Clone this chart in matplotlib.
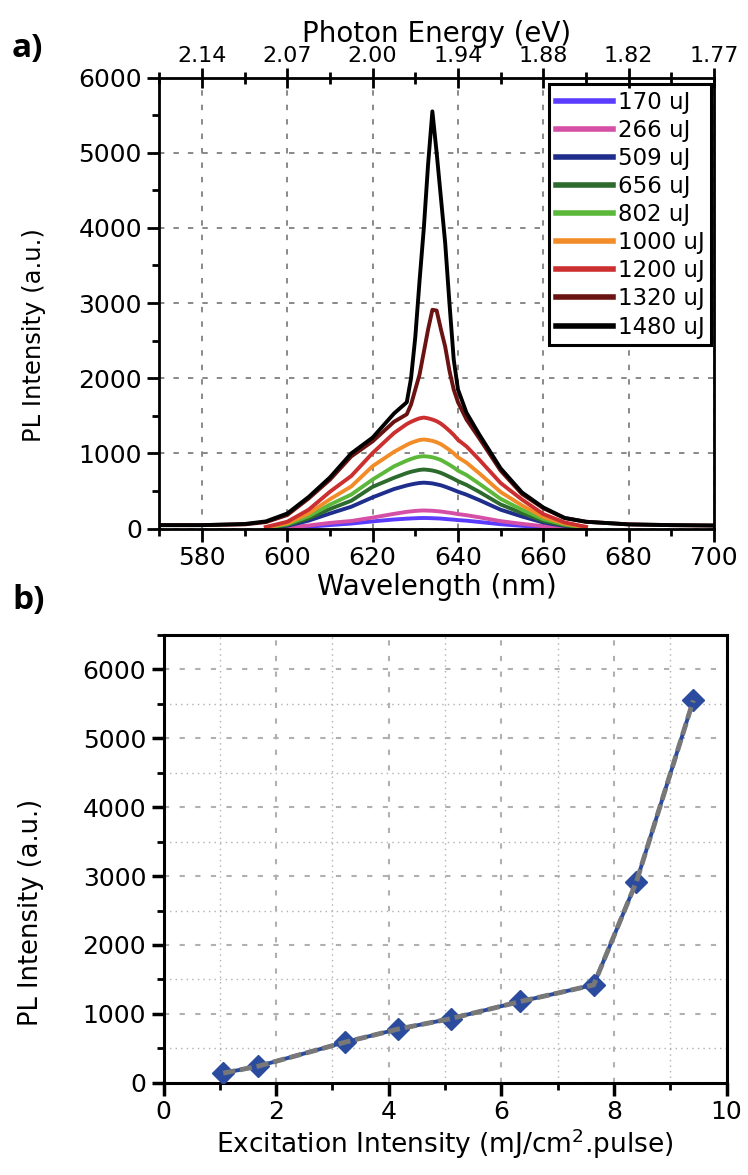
import numpy as np
import matplotlib
matplotlib.use('Agg')
import matplotlib.pyplot as plt
from matplotlib.ticker import MultipleLocator

plt.rcParams['font.family'] = 'DejaVu Sans'

# ---- panel a: PL spectra at different pump energies ----
wl = [570, 580, 590, 595, 600, 605, 610, 615, 620, 625,
      628, 629, 630, 631, 632, 633, 634, 635, 636, 637, 638, 639, 640,
      642, 645, 650, 655, 660, 665, 670, 680, 690, 700]

s170 = [None, None, None, 2, 8, 24, 46, 66, 95, 120,
        131, 134, 137, 139, 140, 139, 137, 135, 132, 127, 122, 118, 112,
        104, 87, 57, 36, 18, 8, 2, None, None, None]
s266 = [None, None, None, 3, 15, 40, 75, 100, 145, 195,
        222, 228, 234, 238, 240, 238, 236, 231, 226, 218, 210, 202, 192,
        177, 149, 98, 62, 31, 13, 4, None, None, None]
s509 = [None, None, None, 6, 37, 105, 200, 290, 415, 525,
        573, 586, 597, 606, 610, 606, 600, 588, 575, 556, 535, 513, 490,
        450, 378, 250, 160, 80, 34, 10, None, None, None]
s656 = [None, None, None, 8, 47, 135, 260, 370, 555, 675,
        738, 755, 768, 780, 785, 780, 772, 758, 740, 715, 688, 660, 630,
        580, 487, 320, 205, 100, 42, 12, None, None, None]
s802 = [None, None, None, 10, 58, 164, 318, 452, 652, 827,
        904, 925, 944, 957, 962, 957, 948, 932, 912, 880, 848, 812, 770,
        712, 596, 394, 250, 125, 53, 14, None, None, None]
s1000 = [None, None, None, 15, 70, 200, 390, 560, 830, 1020,
         1113, 1140, 1160, 1178, 1184, 1178, 1166, 1148, 1122, 1085, 1045, 1000, 947,
         876, 734, 485, 308, 154, 65, 18, None, None, None]
s1200 = [None, None, None, 20, 90, 250, 490, 700, 1005, 1270,
         1390, 1420, 1445, 1466, 1476, 1466, 1450, 1428, 1395, 1350, 1300, 1245, 1180,
         1092, 915, 605, 385, 192, 81, 22, None, None, None]
s1320 = [45, 45, 55, 85, 180, 400, 650, 960, 1160, 1420,
         1520, 1650, 1850, 2050, 2350, 2650, 2910, 2900, 2650, 2420, 2100, 1850, 1680,
         1450, 1200, 770, 460, 270, 140, 90, 55, 45, 40]
s1480 = [45, 45, 60, 95, 200, 420, 680, 1000, 1210, 1530,
         1680, 2000, 2550, 3300, 4000, 4850, 5550, 5000, 4400, 3800, 3000, 2250, 1850,
         1540, 1250, 800, 480, 280, 140, 90, 55, 45, 40]

labels = ['170 uJ', '266 uJ', '509 uJ', '656 uJ', '802 uJ',
          '1000 uJ', '1200 uJ', '1320 uJ', '1480 uJ']
series = [s170, s266, s509, s656, s802, s1000, s1200, s1320, s1480]
colors = ['#5a3cff', '#d64fa6', '#1f2e8c', '#2d6a2d', '#5cb83a',
          '#f28c28', '#cc2f2f', '#6b1212', '#000000']

top_ticks = [580, 600, 620, 640, 660, 680, 700]
energy_labels = ['2.14', '2.07', '2.00', '1.94', '1.88', '1.82', '1.77']

# ---- panel b: peak intensity vs excitation ----
exc = [1.06, 1.68, 3.23, 4.17, 5.10, 6.34, 7.64, 8.40, 9.41]
peak = [140, 240, 590, 780, 930, 1180, 1420, 2920, 5550]

fig = plt.figure(figsize=(7.48, 11.75), dpi=100)

ax1 = fig.add_axes([0.213, 0.5502, 0.7415, 0.3838])
for lab, vals, col in zip(labels, series, colors):
    ax1.plot(wl, np.array(vals, dtype=float), color=col, lw=2.8, label=lab)

ax1.set_xlim(570, 700)
ax1.set_ylim(0, 6000)
ax1.set_xticks(range(580, 701, 20))
ax1.xaxis.set_minor_locator(MultipleLocator(10))
ax1.set_yticks(range(0, 6001, 1000))
ax1.yaxis.set_minor_locator(MultipleLocator(500))
ax1.grid(True, which='major', color='#808080', ls=(0, (3, 5)), lw=1.3)
ax1.tick_params(which='major', direction='out', length=9, width=2, labelsize=18)
ax1.tick_params(which='minor', direction='out', length=5, width=2)
for sp in ax1.spines.values():
    sp.set_linewidth(2)
ax1.set_xlabel('Wavelength (nm)', fontsize=20, labelpad=2)
ax1.set_ylabel('PL Intensity (a.u.)', fontsize=17.5)
ax1.yaxis.set_label_coords(-0.205, 0.43)

leg = ax1.legend(loc='upper right', bbox_to_anchor=(0.995, 0.985), borderaxespad=0,
                 fontsize=16.5, handlelength=2.5, handletextpad=0.2,
                 labelspacing=0.22, borderpad=0.3, fancybox=False,
                 edgecolor='black', framealpha=1)
leg.get_frame().set_linewidth(2.2)
for ln in leg.get_lines():
    ln.set_linewidth(4)

top = ax1.twiny()
top.set_xlim(570, 700)
top.set_xticks(top_ticks)
top.set_xticklabels(energy_labels)
top.xaxis.set_minor_locator(MultipleLocator(10))
top.tick_params(which='major', direction='inout', length=14, width=2, labelsize=16, pad=1)
top.tick_params(which='minor', direction='inout', length=8, width=2)
top.set_xlabel('Photon Energy (eV)', fontsize=20, labelpad=3)

fig.text(12 / 748, 1 - 48 / 1175, 'a)', fontsize=24, fontweight='bold',
         family='Open Sans', va='center', ha='left')

ax2 = fig.add_axes([0.2186, 0.0785, 0.7527, 0.3811])
ax2.plot(exc, peak, color='#2b4c9e', lw=2.8, marker='D', ms=11, zorder=3)
ax2.plot(exc, peak, color='#787878', lw=3.5, ls=(0, (2.5, 1)), zorder=4)
ax2.set_xlim(0, 10)
ax2.set_ylim(0, 6500)
ax2.set_xticks(range(0, 11, 2))
ax2.xaxis.set_minor_locator(MultipleLocator(1))
ax2.set_yticks(range(0, 6001, 1000))
ax2.yaxis.set_minor_locator(MultipleLocator(500))
ax2.grid(True, which='major', color='#b0b0b0', ls=(0, (2.5, 5)), lw=1.5)
ax2.grid(True, which='minor', color='#b0b0b0', ls=(0, (1, 3)), lw=1)
ax2.set_axisbelow(True)
ax2.tick_params(which='major', direction='out', length=9, width=2.5, labelsize=18)
ax2.tick_params(which='minor', direction='out', length=5, width=2)
for sp in ax2.spines.values():
    sp.set_linewidth(2.2)
ax2.set_xlabel(r'Excitation Intensity (mJ/cm$^2$.pulse)', fontsize=19, labelpad=2)
ax2.set_ylabel('PL Intensity (a.u.)', fontsize=18.5)
ax2.yaxis.set_label_coords(-0.212, 0.38)

fig.text(12 / 748, 1 - 600 / 1175, 'b)', fontsize=24, fontweight='bold',
         family='Open Sans', va='center', ha='left')

fig.savefig('out.png', dpi=100)
